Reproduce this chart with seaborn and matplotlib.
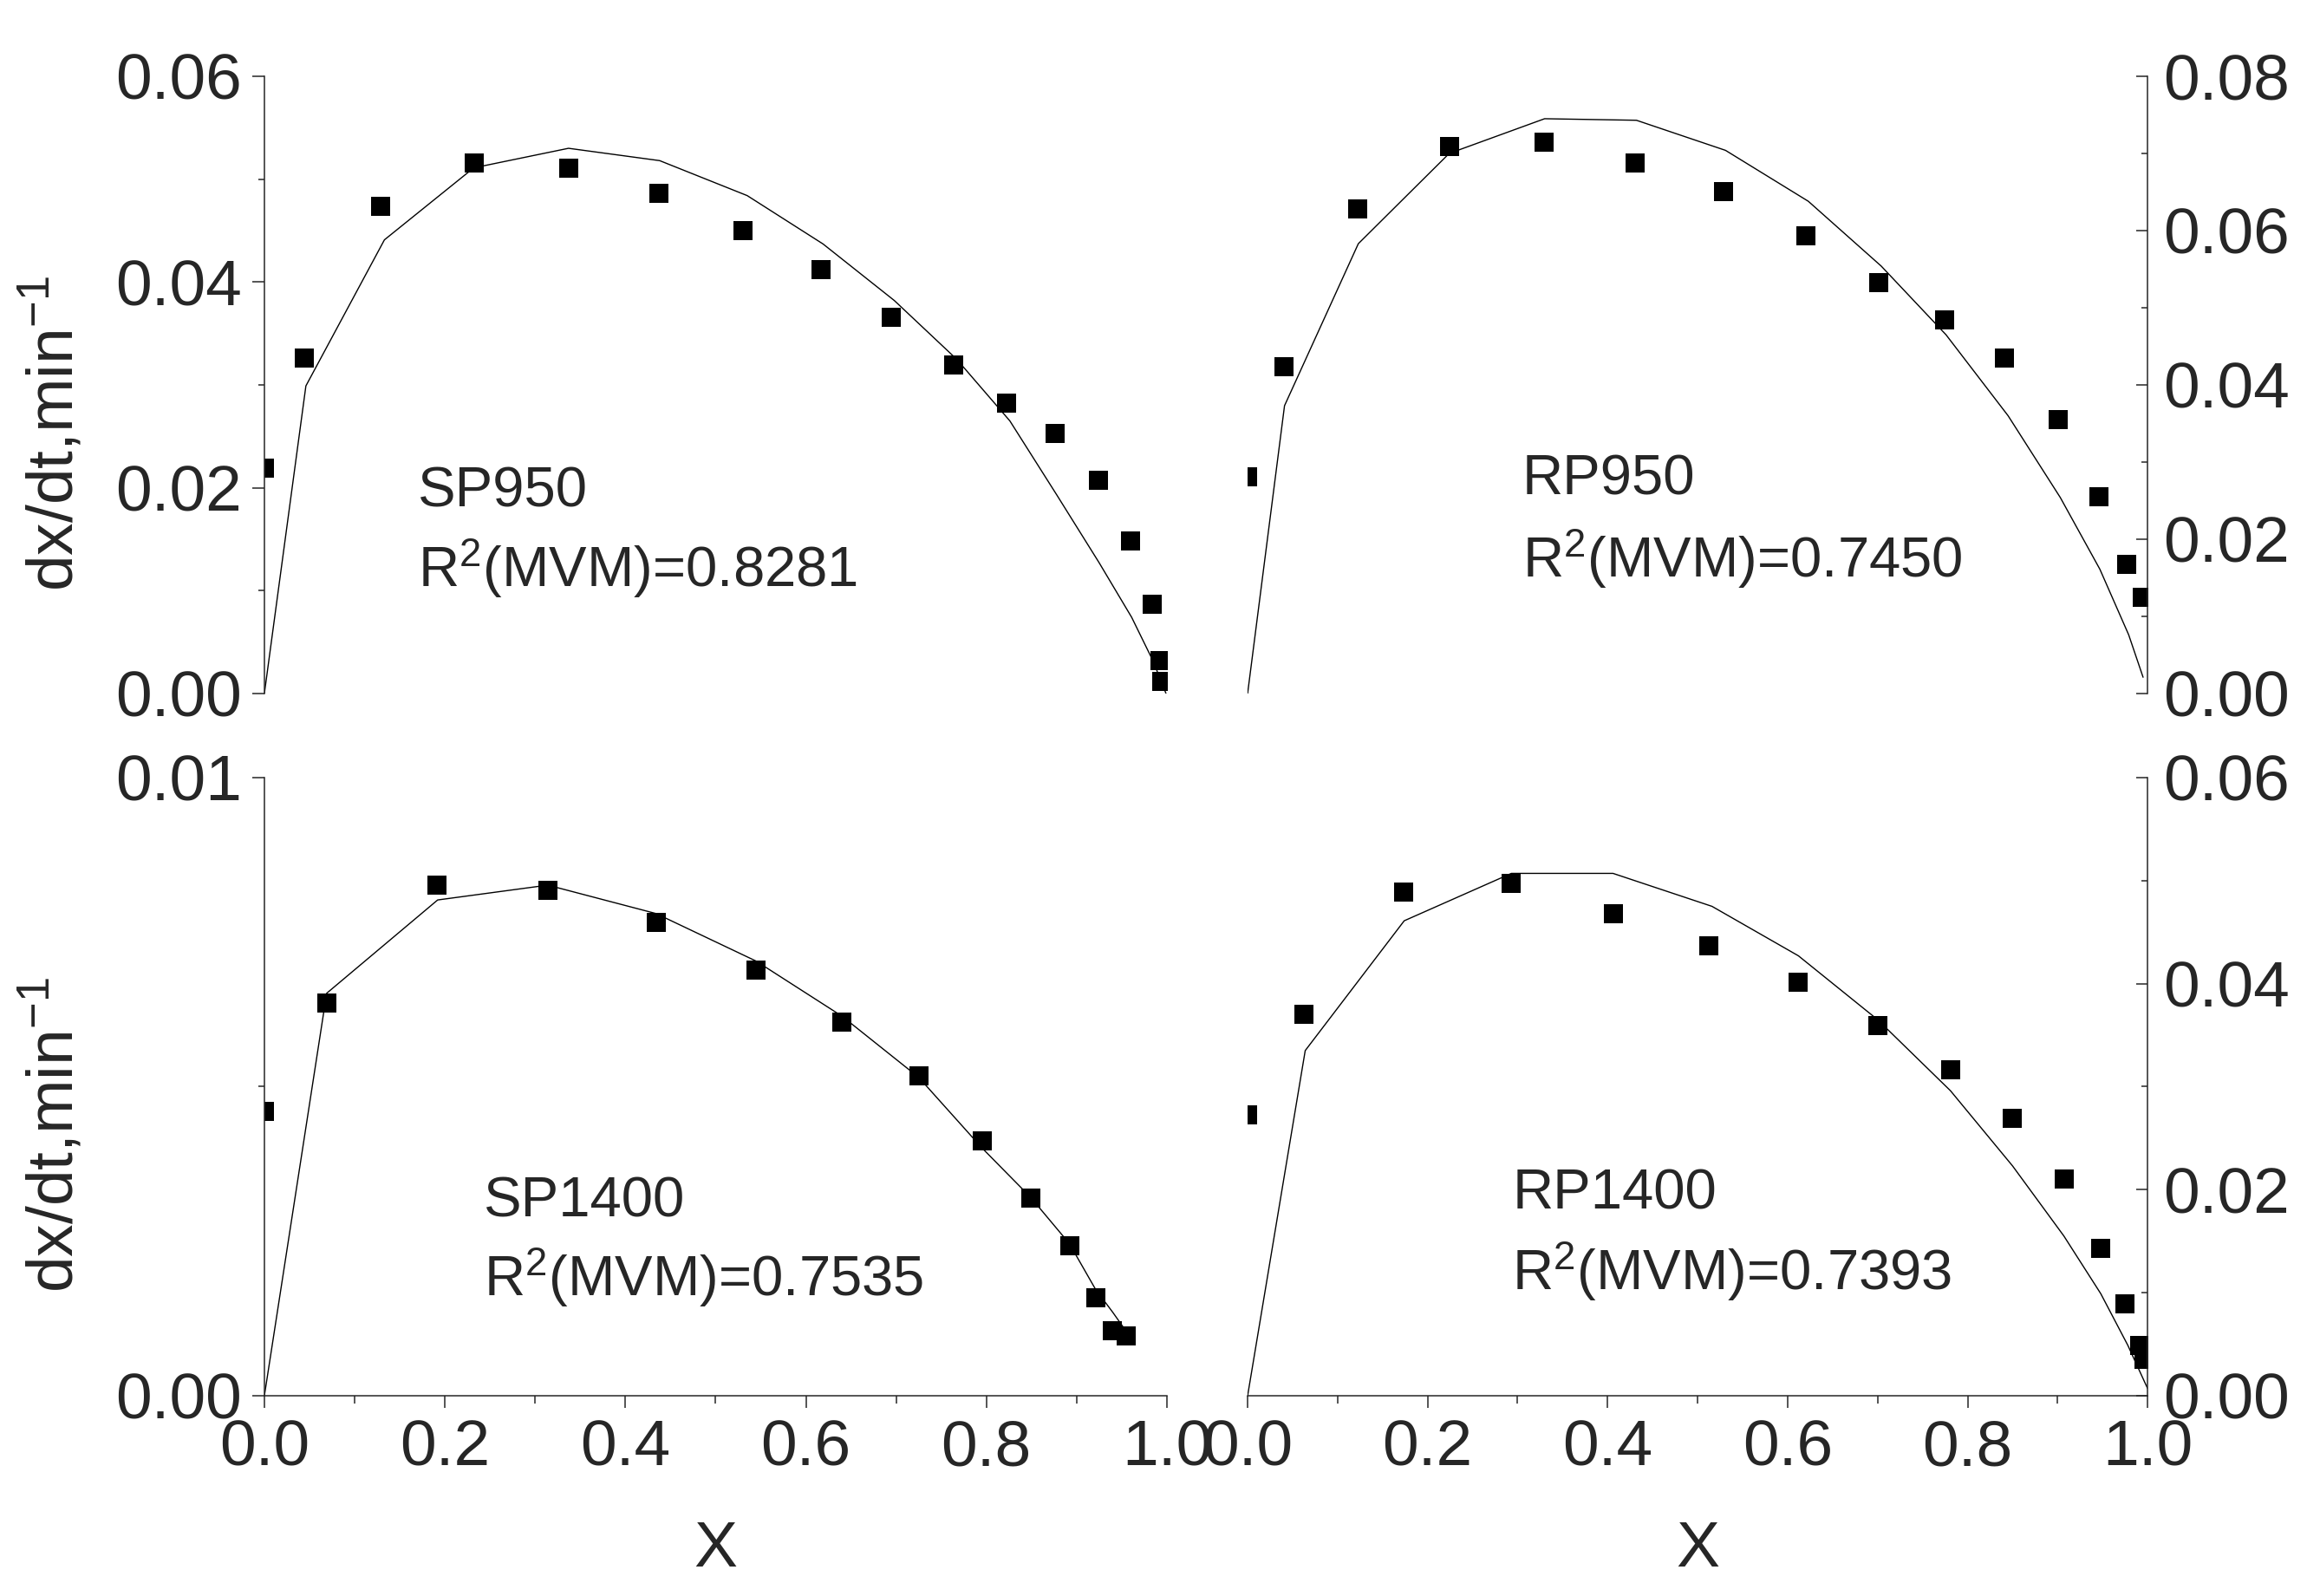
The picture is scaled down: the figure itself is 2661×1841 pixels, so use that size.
import numpy as np
import pandas as pd
import matplotlib.pyplot as plt
import seaborn as sns
from matplotlib.ticker import MultipleLocator, FormatStrFormatter

sns.set_style('ticks')
plt.rcParams['font.family'] = ['Liberation Sans', 'DejaVu Sans']
plt.rcParams['mathtext.fontset'] = 'custom'
plt.rcParams['mathtext.rm'] = 'Liberation Sans'
plt.rcParams['mathtext.it'] = 'Liberation Sans:italic'

# ── data ─────────────────────────────────────────────────────────────────
# SP950 (top left)
sp950_x = [0.0, 0.044, 0.129, 0.233, 0.337, 0.437, 0.530, 0.617, 0.695,
           0.764, 0.822, 0.876, 0.924, 0.960, 0.984, 0.992, 0.994]
sp950_y = [0.0219, 0.0326, 0.0474, 0.0516, 0.0511, 0.0486, 0.0450, 0.0412,
           0.0366, 0.0319, 0.0282, 0.0253, 0.0207, 0.0148, 0.0087, 0.0032, 0.0012]
sp950_fit_x = [0.0, 0.046, 0.133, 0.232, 0.337, 0.438, 0.535, 0.619, 0.698,
               0.767, 0.826, 0.878, 0.925, 0.961, 0.985, 0.999]
sp950_fit_y = [0.0, 0.0299, 0.0441, 0.0511, 0.0530, 0.0518, 0.0484, 0.0437,
               0.0382, 0.0325, 0.0265, 0.0193, 0.0127, 0.0074, 0.0031, 0.0]

# RP950 (top right)
rp950_x = [0.0, 0.040, 0.122, 0.224, 0.329, 0.431, 0.529, 0.620, 0.701,
           0.774, 0.841, 0.901, 0.946, 0.977, 0.994]
rp950_y = [0.0281, 0.0424, 0.0628, 0.0709, 0.0715, 0.0688, 0.0651, 0.0593,
           0.0533, 0.0484, 0.0435, 0.0355, 0.0255, 0.0167, 0.0125]
rp950_fit_x = [0.0, 0.041, 0.123, 0.224, 0.330, 0.432, 0.531, 0.623, 0.704,
               0.776, 0.845, 0.903, 0.947, 0.979, 0.995]
rp950_fit_y = [0.0, 0.0373, 0.0583, 0.0700, 0.0745, 0.0743, 0.0704, 0.0638,
               0.0554, 0.0465, 0.0360, 0.0254, 0.0161, 0.0076, 0.0021]

# SP1400 (bottom left)
sp1400_x = [0.0, 0.069, 0.191, 0.314, 0.434, 0.545, 0.640, 0.725, 0.795,
            0.849, 0.892, 0.921, 0.940, 0.955]
sp1400_y = [0.00460, 0.00635, 0.00826, 0.00818, 0.00766, 0.00689, 0.00604,
            0.00518, 0.00412, 0.00320, 0.00242, 0.00158, 0.00105, 0.00097]
sp1400_fit_x = [0.0, 0.069, 0.192, 0.314, 0.434, 0.545, 0.640, 0.725, 0.795,
                0.849, 0.892, 0.921, 0.940, 0.955]
sp1400_fit_y = [0.0, 0.00651, 0.00802, 0.00826, 0.00780, 0.00703, 0.00614,
                0.00515, 0.00401, 0.00321, 0.00246, 0.00172, 0.00135, 0.00104]

# RP1400 (bottom right)
rp1400_x = [0.0, 0.063, 0.173, 0.293, 0.406, 0.512, 0.612, 0.700, 0.781,
            0.850, 0.907, 0.948, 0.975, 0.991, 0.996]
rp1400_y = [0.0273, 0.0370, 0.0489, 0.0497, 0.0468, 0.0437, 0.0401, 0.0359,
            0.0316, 0.0269, 0.0210, 0.0143, 0.0089, 0.0049, 0.0035]
rp1400_fit_x = [0.0, 0.064, 0.174, 0.293, 0.406, 0.516, 0.612, 0.700, 0.781,
                0.850, 0.907, 0.948, 0.978, 1.0]
rp1400_fit_y = [0.0, 0.0335, 0.0461, 0.0507, 0.0507, 0.0475, 0.0427, 0.0365,
                0.0296, 0.0223, 0.0155, 0.0099, 0.0049, 0.0007]

x_ticks = [0.0, 0.2, 0.4, 0.6, 0.8, 1.0]

panels = [
    # name, r2, points, fit, ymax, ystep, side, bottom axis, axes rect, text pos
    ('SP950', '0.8281', (sp950_x, sp950_y), (sp950_fit_x, sp950_fit_y),
     0.06, 0.02, 'left', False, [0.1146, 0.5655, 0.3912, 0.3867], (0.170, 0.303, 0.173)),
    ('RP950', '0.7450', (rp950_x, rp950_y), (rp950_fit_x, rp950_fit_y),
     0.08, 0.02, 'right', False, [0.5408, 0.5655, 0.3901, 0.3867], (0.305, 0.322, 0.188)),
    ('SP1400', '0.7535', (sp1400_x, sp1400_y), (sp1400_fit_x, sp1400_fit_y),
     0.01, 0.01, 'left', True, [0.1146, 0.1255, 0.3912, 0.3873], (0.243, 0.290, 0.161)),
    ('RP1400', '0.7393', (rp1400_x, rp1400_y), (rp1400_fit_x, rp1400_fit_y),
     0.06, 0.02, 'right', True, [0.5408, 0.1255, 0.3901, 0.3873], (0.294, 0.302, 0.171)),
]

fig = plt.figure(figsize=(26.61, 18.41), dpi=100)

for name, r2, pts, fit, ymax, ystep, side, has_x, rect, tpos in panels:
    ax = fig.add_axes(rect)
    ax.set_facecolor('none')
    pts_df = pd.DataFrame({'x': pts[0], 'y': pts[1]})
    fit_df = pd.DataFrame({'x': fit[0], 'y': fit[1]})
    sns.lineplot(data=fit_df, x='x', y='y', ax=ax, color='black',
                 linewidth=1.0, estimator=None, sort=False)
    sns.scatterplot(data=pts_df, x='x', y='y', ax=ax, marker='s', s=240,
                    color='black', linewidth=0)

    ax.set_xlim(0, 1.0)
    ax.set_ylim(0, ymax)
    for s in ['top', 'left', 'right', 'bottom']:
        ax.spines[s].set_visible(False)
    ax.spines[side].set_visible(True)
    ax.spines[side].set_linewidth(1.1)

    ax.yaxis.set_major_locator(MultipleLocator(ystep))
    ax.yaxis.set_minor_locator(MultipleLocator(ystep / 2))
    ax.yaxis.set_major_formatter(FormatStrFormatter('%.2f'))
    if side == 'right':
        # right-hand panels: ticks point inward, labels outside
        ax.yaxis.tick_right()
        ax.tick_params(axis='y', which='major', length=9.5, width=1.1,
                       labelsize=54, pad=13, direction='in')
        ax.tick_params(axis='y', which='minor', length=5, width=1.1, direction='in')
    else:
        ax.tick_params(axis='y', which='major', length=10, width=1.1,
                       labelsize=54, pad=9, direction='out')
        ax.tick_params(axis='y', which='minor', length=5, width=1.1, direction='out')

    if has_x:
        ax.spines['bottom'].set_visible(True)
        ax.spines['bottom'].set_linewidth(1.1)
        ax.set_xticks(x_ticks)
        ax.xaxis.set_minor_locator(MultipleLocator(0.1))
        ax.xaxis.set_major_formatter(FormatStrFormatter('%.1f'))
        ax.tick_params(axis='x', which='major', length=10, width=1.1,
                       labelsize=54, pad=9, direction='out')
        ax.tick_params(axis='x', which='minor', length=6.5, width=1.1, direction='out')
        ax.set_xlabel('X', fontsize=54, labelpad=34)
    else:
        ax.set_xticks([])
        ax.set_xlabel('')
    ax.set_ylabel('')
    if side == 'left':
        ax.text(-0.235, 0.422, 'dx/dt,min$^{-1}$', transform=ax.transAxes,
                rotation=90, ha='center', va='center', fontsize=54)

    ax.text(tpos[0], tpos[1], name, transform=ax.transAxes, fontsize=47,
            ha='left', va='baseline')
    ax.text(tpos[0], tpos[2], 'R$^2$(MVM)=' + r2, transform=ax.transAxes,
            fontsize=47, ha='left', va='baseline')

fig.savefig('out.png', dpi=100, facecolor='white')
